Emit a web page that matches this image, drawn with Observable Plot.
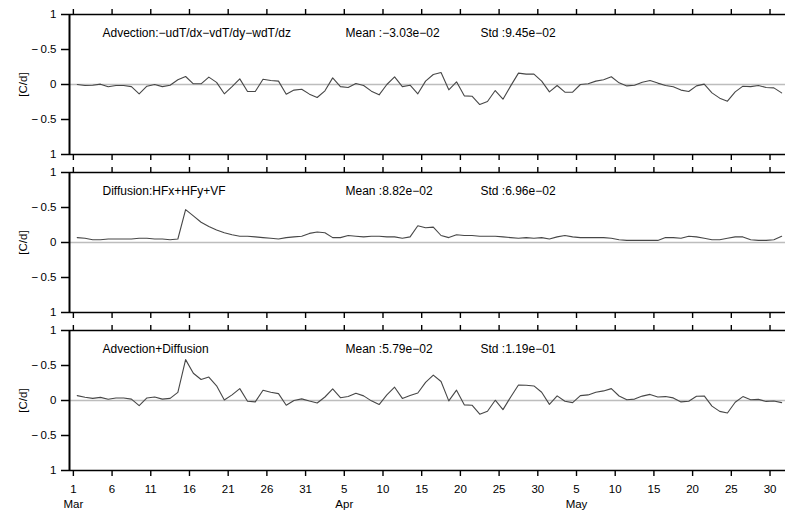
<!DOCTYPE html>
<html><head><meta charset="utf-8">
<script src="https://cdn.jsdelivr.net/npm/d3@7"></script>
<script src="https://cdn.jsdelivr.net/npm/@observablehq/plot@0.6"></script>
<style>
body{margin:0;background:#fff;}
#chart svg{display:block;}
</style>
</head><body><div id="chart"></div>
<script>
// Daily values, 1 Mar .. 31 May (92 days), plotted at noon of each day
const advection = [0, -0.014, -0.01, 0.005, -0.033, -0.014, -0.014, -0.03, -0.133, -0.024,
 0, -0.03, -0.01, 0.067, 0.114, 0.01, 0.01, 0.105, 0.03, -0.133,
 -0.03, 0.08, -0.1, -0.1, 0.076, 0.057, 0.048, -0.138, -0.08, -0.067,
 -0.138, -0.186, -0.09, 0.095, -0.03, -0.043, 0.014, -0.014, -0.095, -0.148,
 0, 0.11, -0.03, -0.01, -0.133, 0.048, 0.143, 0.171, -0.076, 0.038,
 -0.162, -0.167, -0.286, -0.243, -0.086, -0.21, -0.02, 0.162, 0.148, 0.148,
 0.048, -0.105, -0.014, -0.11, -0.11, 0, 0.01, 0.048, 0.067, 0.11,
 0.024, -0.02, -0.01, 0.033, 0.057, 0.02, -0.014, -0.033, -0.08, -0.1,
 -0.02, 0.005, -0.12, -0.195, -0.238, -0.105, -0.024, -0.03, -0.014, -0.043, -0.048, -0.12];

const diffusion = [0.07,0.06,0.04,0.04,0.05,0.05,0.05,0.05,0.06,0.06,
 0.05,0.05,0.04,0.05,0.47,0.38,0.29,0.23,0.18,0.14,
 0.11,0.09,0.09,0.08,0.07,0.06,0.05,0.07,0.08,0.09,
 0.13,0.15,0.14,0.07,0.07,0.10,0.09,0.08,0.09,0.09,
 0.08,0.08,0.06,0.08,0.24,0.21,0.22,0.10,0.07,0.11,
 0.10,0.10,0.09,0.09,0.09,0.08,0.07,0.06,0.07,0.06,
 0.07,0.05,0.08,0.10,0.08,0.07,0.07,0.07,0.07,0.06,
 0.04,0.03,0.03,0.03,0.03,0.03,0.07,0.07,0.06,0.09,
 0.08,0.06,0.04,0.04,0.06,0.08,0.08,0.04,0.03,0.03,0.04,0.09];

const total = [0.07,0.046,0.03,0.045,0.017,0.036,0.036,0.02,-0.073,0.036,
 0.05,0.02,0.03,0.117,0.584,0.39,0.30,0.335,0.21,0.007,
 0.08,0.17,-0.01,-0.02,0.146,0.117,0.098,-0.068,0.0,0.023,
 -0.008,-0.036,0.05,0.165,0.04,0.057,0.104,0.066,-0.005,-0.058,
 0.08,0.19,0.03,0.07,0.107,0.258,0.363,0.271,-0.006,0.148,
 -0.062,-0.067,-0.196,-0.153,0.004,-0.13,0.05,0.222,0.218,0.208,
 0.118,-0.055,0.066,-0.01,-0.03,0.07,0.08,0.118,0.137,0.17,
 0.064,0.01,0.02,0.063,0.087,0.05,0.056,0.037,-0.02,-0.01,
 0.06,0.065,-0.08,-0.155,-0.178,-0.025,0.056,0.01,0.016,-0.013,-0.008,-0.03];

const titles = ["Advection:−udT/dx−vdT/dy−wdT/dz", "Diffusion:HFx+HFy+VF", "Advection+Diffusion"];
const means = ["Mean :−3.03e−02", "Mean :8.82e−02", "Mean :5.79e−02"];
const stds = ["Std :9.45e−02", "Std :6.96e−02", "Std :1.19e−01"];

// x ticks: days since 1 Mar, every 5 days
const xTickValues = [0,5,10,15,20,25,30,35,40,45,50,55,60,65,70,75,80,85,90];
const xTickLabels = ["1\nMar","6","11","16","21","26","31","5\nApr","10","15","20","25","30","5\nMay","10","15","20","25","30"];
const yTickValues = [-1, -0.5, 0, 0.5, 1];
const yTickLabels = ["1", "−\u20090.5", "0", "−\u20090.5", "1"];
const yLabel = "[C/d]";

const xDomain = [-0.5, 92];
const yDomain = [-1, 1];
const series = [advection, diffusion, total];
const layout = [
  {height: 163, mt: 14, mb: 9},
  {height: 158, mt: 9, mb: 9},
  {height: 192, mt: 9, mb: 43}
];

const font = "'Liberation Sans', Arial, Helvetica, sans-serif";
const chart = document.getElementById("chart");

series.forEach((vals, k) => {
  const data = vals.map((v, i) => ({day: i + 0.5, value: v}));
  const last = k === series.length - 1;
  const L = layout[k];
  const svg = Plot.plot({
    width: 785, height: L.height,
    marginLeft: 69, marginRight: 0, marginTop: L.mt, marginBottom: L.mb,
    style: {fontFamily: font, fontSize: "11.5px", background: "#fff", color: "#000", overflow: "visible"},
    x: {domain: xDomain},
    y: {domain: yDomain},
    marks: [
      Plot.ruleY([0], {stroke: "#bdbdbd", strokeWidth: 1.6}),
      Plot.lineY(data, {x: "day", y: "value", stroke: "#474747", strokeWidth: 1.1}),
      Plot.ruleY(yDomain, {stroke: "#000", strokeWidth: 1.6}),
      Plot.ruleX([xDomain[0]], {stroke: "#000", strokeWidth: 2}),
      Plot.axisX(xTickValues, {anchor: "top", tickSize: 6, strokeWidth: 1.4, tickFormat: () => "", label: null}),
      Plot.axisX(xTickValues, {anchor: "bottom", tickSize: 6, strokeWidth: 1.4, tickPadding: 5,
        tickFormat: last ? (d => xTickLabels[xTickValues.indexOf(d)]) : () => "",
        lineHeight: 1.35, fontSize: 11.5, label: null}),
      Plot.axisY(yTickValues, {anchor: "left", tickSize: 8, tickPadding: 5, strokeWidth: 1.5,
        tickFormat: d => yTickLabels[yTickValues.indexOf(d)], fontSize: 11.5,
        label: yLabel, labelAnchor: "center", labelArrow: "none", labelOffset: 51}),
      Plot.text([titles[k]], {frameAnchor: "top-left", dx: 33, dy: 19, textAnchor: "start", lineAnchor: "middle", fontSize: 12, fill: "#000"}),
      Plot.text([means[k]], {frameAnchor: "top-left", dx: 276, dy: 19, textAnchor: "start", lineAnchor: "middle", fontSize: 12, fill: "#000"}),
      Plot.text([stds[k]], {frameAnchor: "top-left", dx: 411, dy: 19, textAnchor: "start", lineAnchor: "middle", fontSize: 12, fill: "#000"})
    ]
  });
  chart.appendChild(svg);
});
</script>
</body></html>
